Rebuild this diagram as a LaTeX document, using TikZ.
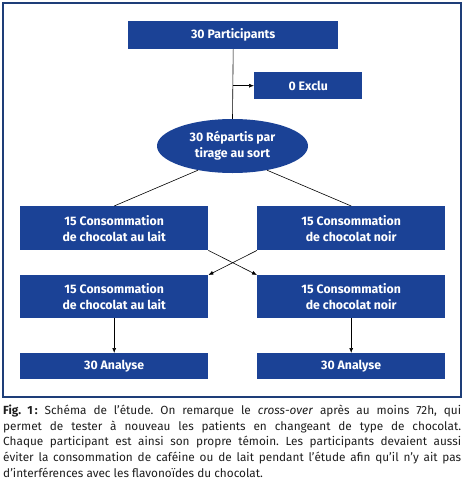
\documentclass[tikz,border=0pt]{standalone}
\usepackage{fontspec}
\setmainfont{Fira Sans}
\usetikzlibrary{shapes.geometric,arrows.meta}
\definecolor{boxblue}{RGB}{27,66,150}
\definecolor{frameblue}{RGB}{30,62,120}
\definecolor{captext}{RGB}{30,30,30}
\tikzset{
  blk/.style={fill=boxblue, text=white, font=\fontsize{12.3}{16}\selectfont\bfseries, align=center, inner sep=0pt, anchor=north west},
  ell/.style={ellipse, fill=boxblue, text=white, font=\fontsize{12.3}{16}\selectfont\bfseries, align=center, inner sep=0pt, minimum width=151pt, minimum height=54pt},
  conn/.style={draw=black, line width=0.6pt},
  arr/.style={conn, -{Latex[length=5pt,width=4pt]}}
}
\begin{document}
\begin{tikzpicture}[x=1pt,y=-1pt]
\useasboundingbox (0,0) rectangle (467,496);
\draw[frameblue, line width=2pt] (3,3) rectangle (461,397);
\node[blk, minimum width=210pt, minimum height=28pt] (part) at (128,21) {30 Participants};
\node[blk, minimum width=108pt, minimum height=27pt] (excl) at (254,72) {0 Exclu};
\node[ell] (rand) at (232.5,146) {30 Répartis par\\tirage au sort};
\node[blk, minimum width=188pt, minimum height=44pt] (lait1) at (20,206) {15 Consommation\\de chocolat au lait};
\node[blk, minimum width=188pt, minimum height=44pt] (noir1) at (257,206) {15 Consommation\\de chocolat noir};
\node[blk, minimum width=188pt, minimum height=43pt] (lait2) at (20,275) {15 Consommation\\de chocolat au lait};
\node[blk, minimum width=188pt, minimum height=43pt] (noir2) at (257,275) {15 Consommation\\de chocolat noir};
\node[blk, minimum width=188pt, minimum height=26pt] (an1) at (20,353) {30 Analyse};
\node[blk, minimum width=188pt, minimum height=26pt] (an2) at (257,353) {30 Analyse};
\draw[conn] (part.south) -- (rand.north);
\coordinate (branch) at (part.south |- excl.west);
\draw[arr] (branch) -- (excl.west);
\draw[conn] (rand.-145) -- (lait1.north);
\draw[conn] (rand.-35) -- (noir1.north);
\draw[arr] (lait1.south east) -- (noir2.north west);
\draw[arr] (noir1.south west) -- (lait2.north east);
\draw[arr] (lait2.south) -- (an1.north);
\draw[arr] (noir2.south) -- (an2.north);
\node[anchor=north west, inner sep=0pt, text=captext, align=left, font=\fontsize{11.8}{15.6}\selectfont\frenchspacing] (cap) at (3,405) {%
\makebox[458pt][s]{\textbf{Fig.~1\,:} Schéma de l’étude. On remarque le \textit{cross-over} après au moins 72h, qui}\\
\makebox[458pt][s]{permet de tester à nouveau les patients en changeant de type de chocolat.}\\
\makebox[458pt][s]{Chaque participant est ainsi son propre témoin. Les participants devaient aussi}\\
\makebox[458pt][s]{éviter la consommation de caféine ou de lait pendant l’étude afin qu’il n’y ait pas}\\
d’interférences avec les flavonoïdes du chocolat.};
\end{tikzpicture}
\end{document}
